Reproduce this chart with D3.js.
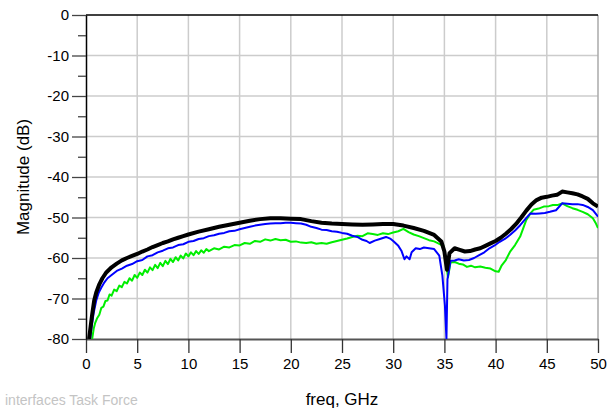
<!DOCTYPE html>
<html>
<head>
<meta charset="utf-8">
<script src="https://cdn.jsdelivr.net/npm/d3@7"></script>
<style>
  body { margin: 0; background: #fff; }
  svg { display: block; font-family: "Liberation Sans", Arial, sans-serif; }
</style>
</head>
<body>
<svg id="chart" width="608" height="410"></svg>
<script>
// [freq GHz, magnitude dB]
var blackSeries = [
  [0.3,-80],[0.45,-77],[0.6,-74],[0.8,-70.5],[1.0,-68.5],[1.3,-66.5],[1.6,-65],[2,-63.5],
  [2.5,-62.3],[3,-61.4],[3.5,-60.6],[4,-60],[4.5,-59.5],[5,-59],[5.5,-58.4],[6,-57.9],
  [6.5,-57.3],[7,-56.8],[7.5,-56.3],[8,-55.9],[8.5,-55.4],[9,-55],[9.5,-54.6],[10,-54.2],
  [11,-53.5],[12,-52.9],[13,-52.3],[14,-51.8],[15,-51.3],[16,-50.8],[17,-50.4],[18,-50.2],
  [19,-50.2],[20,-50.3],[21,-50.4],[22,-50.9],[23,-51.3],[24,-51.5],[25,-51.6],[26,-51.7],
  [27,-51.8],[28,-51.7],[29,-51.6],[30,-51.6],[31,-52],[32,-52.6],[33,-53.3],[34,-54.3],
  [34.7,-55.9],[35,-58.4],[35.25,-62.9],[35.5,-58.8],[36,-57.6],[36.5,-58],[37,-58.4],
  [37.5,-58.3],[38,-57.9],[38.5,-57.6],[39,-57],[39.5,-56.4],[40,-55.8],[40.5,-55],[41,-54],
  [41.5,-52.9],[42,-51.6],[42.5,-50],[43,-48.3],[43.5,-46.8],[44,-45.7],[44.5,-45.1],
  [45,-44.9],[45.5,-44.6],[46,-44.4],[46.5,-43.6],[47,-43.8],[47.5,-44],[48,-44.3],
  [48.5,-44.8],[49,-45.4],[49.5,-46.5],[50,-47.3]
];

var blueSeries = [
  [0.4,-80],[0.55,-77],[0.75,-73.5],[1.0,-70.5],[1.25,-68.5],[1.5,-67.3],[1.8,-66],[2.1,-65],
  [2.5,-64.2],[3,-63.2],[3.5,-62.6],[4,-61.9],[4.5,-61.5],[5,-60.8],[5.5,-60.5],[6,-59.6],
  [6.5,-59.3],[7,-58.6],[7.5,-58.2],[8,-57.6],[8.5,-57.4],[9,-56.8],[9.5,-56.6],[10,-56],
  [10.5,-55.8],[11,-55.3],[11.5,-55.1],[12,-54.6],[12.5,-54.4],[13,-54],[13.5,-53.8],
  [14,-53.4],[14.5,-53.3],[15,-52.9],[15.5,-52.6],[16,-52.3],[16.5,-52],[17,-51.8],
  [17.5,-51.6],[18,-51.5],[18.5,-51.4],[19,-51.4],[19.5,-51.3],[20,-51.3],[20.5,-51.4],
  [21,-51.5],[21.5,-51.8],[22,-52.3],[22.5,-52.6],[23,-53],[23.5,-53.1],[24,-53.4],
  [24.5,-53.5],[25,-53.8],[25.5,-54],[26,-54.5],[26.5,-54.8],[27,-55.5],[27.4,-55.8],
  [27.7,-56.3],[28.2,-55.7],[28.7,-55.3],[29.3,-54.8],[29.7,-55.2],[30,-55.8],[30.5,-57],
  [30.8,-58.2],[31.1,-60.3],[31.3,-59.6],[31.6,-60.3],[31.8,-58.6],[32.2,-57.6],[32.6,-57.8],
  [33,-57.4],[33.5,-57.6],[34,-57.8],[34.5,-59.4],[34.8,-64.3],[35.05,-71.7],[35.2,-80],
  [35.3,-65.2],[35.6,-60.7],[36,-60.6],[36.4,-60.3],[36.9,-60.6],[37.4,-60.5],[37.9,-60],
  [38.4,-59.3],[38.9,-58.6],[39.4,-57.6],[39.9,-56.9],[40.4,-56],[40.9,-55.3],[41.4,-54.3],
  [41.9,-53.2],[42.4,-51.9],[42.9,-50.4],[43.4,-49],[43.9,-49.1],[44.3,-49],[44.8,-48.9],
  [45.3,-48.6],[45.9,-48.2],[46.5,-46.5],[47,-46.6],[47.5,-46.7],[48,-46.7],[48.5,-46.9],
  [49,-47.4],[49.5,-48.2],[50,-49.8]
];

var greenSeries = [
  [0.6,-80],[0.75,-77.5],[0.9,-76],[1.1,-74.8],[1.3,-74],[1.5,-72.3],[1.7,-72],[1.9,-70.6],
  [2.1,-70.5],[2.3,-69],[2.5,-69.3],[2.75,-67.8],[3.0,-68.2],[3.25,-66.8],[3.5,-67.2],
  [3.75,-65.9],[4.0,-66.3],[4.25,-65],[4.5,-65.6],[4.75,-64.2],[5.0,-64.9],[5.25,-63.6],
  [5.5,-64.2],[5.75,-62.9],[6.0,-63.6],[6.25,-62.3],[6.5,-63],[6.75,-61.7],[7.0,-62.5],
  [7.25,-61.2],[7.5,-62],[7.75,-60.7],[8.0,-61.5],[8.25,-60.2],[8.5,-61],[8.75,-59.8],
  [9.0,-60.6],[9.25,-59.4],[9.5,-60.1],[9.75,-58.9],[10.0,-59.6],[10.25,-58.6],[10.5,-59.3],
  [10.75,-58.3],[11.0,-59],[11.25,-58.1],[11.5,-58.7],[11.75,-57.8],[12.0,-58.3],[12.5,-57.6],
  [13,-57.9],[13.5,-57.2],[14,-57.4],[14.5,-56.8],[15,-56.9],[15.5,-56.3],[16,-56.5],
  [16.5,-55.8],[17,-56],[17.5,-55.4],[18,-55.7],[18.5,-55.3],[19,-55.6],[19.5,-55.5],
  [20,-56],[20.5,-55.9],[21,-56.2],[21.5,-56.3],[22,-56.1],[22.5,-56.5],[23,-56.3],
  [23.5,-56.5],[24,-56.1],[24.5,-55.8],[25,-55.5],[25.5,-55.2],[26,-54.8],[26.5,-54.5],
  [27,-54.6],[27.5,-53.9],[28,-54.1],[28.5,-54.3],[29,-53.9],[29.5,-54.1],[30,-53.7],
  [30.5,-53.4],[31,-52.8],[31.5,-53.6],[32,-54.2],[32.5,-54.6],[33,-55.1],[33.5,-55.6],
  [34,-55.9],[34.5,-56.5],[34.9,-57],[35.15,-61],[35.35,-64.8],[35.6,-61.1],[36,-61],
  [36.4,-61.4],[36.8,-61.6],[37.2,-62.2],[37.6,-61.9],[38,-62.3],[38.5,-62.1],[39,-62.4],
  [39.5,-62.6],[40,-63.3],[40.3,-63.4],[40.6,-61.8],[41,-60.5],[41.4,-58.5],[41.9,-56.8],
  [42.4,-54.7],[43,-50.6],[43.4,-49],[43.7,-48.1],[44.2,-47.8],[44.7,-47.3],[45.2,-47.2],
  [45.6,-46.9],[46.1,-46.9],[46.5,-46.5],[47,-47.2],[47.5,-47.7],[48,-48.1],[48.5,-48.6],
  [49,-49.2],[49.5,-50.2],[49.8,-51.5],[50,-52.6]
];

var xTicks = [0, 5, 10, 15, 20, 25, 30, 35, 40, 45, 50];
var yTicks = [0, -10, -20, -30, -40, -50, -60, -70, -80];
var yMinorTicks = [-5, -15, -25, -35, -45, -55, -65, -75];

var svg = d3.select("#chart");
var margin = { top: 15, right: 10, bottom: 71, left: 86 };
var width = +svg.attr("width") - margin.left - margin.right;
var height = +svg.attr("height") - margin.top - margin.bottom;
var g = svg.append("g").attr("transform", "translate(" + margin.left + "," + margin.top + ")");

var x = d3.scaleLinear().domain([0, 50]).range([0, width]);
var y = d3.scaleLinear().domain([-80, 0]).range([height, 0]);

// plain hyphen for negative labels, like the original
var plainFormat = function(d) { return String(d); };

// grid
g.append("g").selectAll("line").data(xTicks.slice(1, -1)).enter().append("line")
    .attr("x1", function(d) { return x(d); }).attr("x2", function(d) { return x(d); })
    .attr("y1", 0).attr("y2", height)
    .attr("stroke", "#cccccc").attr("stroke-width", 1.5);
g.append("g").selectAll("line").data(yTicks.slice(1, -1)).enter().append("line")
    .attr("x1", 0).attr("x2", width)
    .attr("y1", function(d) { return y(d); }).attr("y2", function(d) { return y(d); })
    .attr("stroke", "#cccccc").attr("stroke-width", 1.5);

// right border and top border
g.append("line").attr("x1", width).attr("x2", width).attr("y1", 0).attr("y2", height)
    .attr("stroke", "#aaaaaa").attr("stroke-width", 1.5);
g.append("line").attr("x1", 0).attr("x2", width).attr("y1", 0).attr("y2", 0)
    .attr("stroke", "#000").attr("stroke-width", 1.5);

// Attach X Axis
var xAxis = g.append("g")
    .attr("transform", "translate(0," + height + ")")
    .call(d3.axisBottom(x).tickValues(xTicks).tickFormat(plainFormat)
        .tickSize(14).tickPadding(5).tickSizeOuter(0));
xAxis.select(".domain").attr("stroke", "#555").attr("stroke-width", 2);
xAxis.selectAll(".tick line").attr("stroke", "#333").attr("stroke-width", 1.3);
xAxis.selectAll("text").attr("fill", "#000").style("font-size", "15px")
    .style("font-family", "Liberation Sans, Arial, sans-serif");

// Attach Y Axis
var yAxis = g.append("g")
    .call(d3.axisLeft(y).tickValues(yTicks).tickFormat(plainFormat)
        .tickSize(14).tickPadding(3).tickSizeOuter(0));
yAxis.select(".domain").attr("stroke", "#000").attr("stroke-width", 1.5);
yAxis.selectAll(".tick line").attr("stroke", "#444").attr("stroke-width", 1.3);
yAxis.selectAll("text").attr("fill", "#000").style("font-size", "15px")
    .style("font-family", "Liberation Sans, Arial, sans-serif");

var yMinor = g.append("g")
    .call(d3.axisLeft(y).tickValues(yMinorTicks).tickSize(8).tickFormat("").tickSizeOuter(0));
yMinor.select(".domain").remove();
yMinor.selectAll(".tick line").attr("stroke", "#444").attr("stroke-width", 1.3);

// curves
g.append("clipPath").attr("id", "plotClip").append("rect")
    .attr("x", 0).attr("y", -2).attr("width", width).attr("height", height + 2);

var line = d3.line()
    .x(function(d) { return x(d[0]); })
    .y(function(d) { return y(d[1]); });

var curves = g.append("g").attr("clip-path", "url(#plotClip)");
curves.append("path").datum(greenSeries)
    .attr("fill", "none").attr("stroke", "#00ee00").attr("stroke-width", 2)
    .attr("stroke-linejoin", "round").attr("d", line);
curves.append("path").datum(blueSeries)
    .attr("fill", "none").attr("stroke", "#0000ff").attr("stroke-width", 2)
    .attr("stroke-linejoin", "round").attr("d", line);
curves.append("path").datum(blackSeries)
    .attr("fill", "none").attr("stroke", "#000").attr("stroke-width", 4)
    .attr("stroke-linejoin", "round").attr("d", line);

// titles
svg.append("text")
    .attr("transform", "translate(29,177) rotate(-90)")
    .attr("text-anchor", "middle")
    .style("font-size", "17px")
    .text("Magnitude (dB)");

svg.append("text")
    .attr("x", 342).attr("y", 405)
    .attr("text-anchor", "middle")
    .style("font-size", "17px")
    .text("freq, GHz");

svg.append("text")
    .attr("x", 5).attr("y", 405)
    .attr("fill", "#c4c4c4")
    .style("font-size", "14px")
    .text("interfaces Task Force");
</script>
</body>
</html>
